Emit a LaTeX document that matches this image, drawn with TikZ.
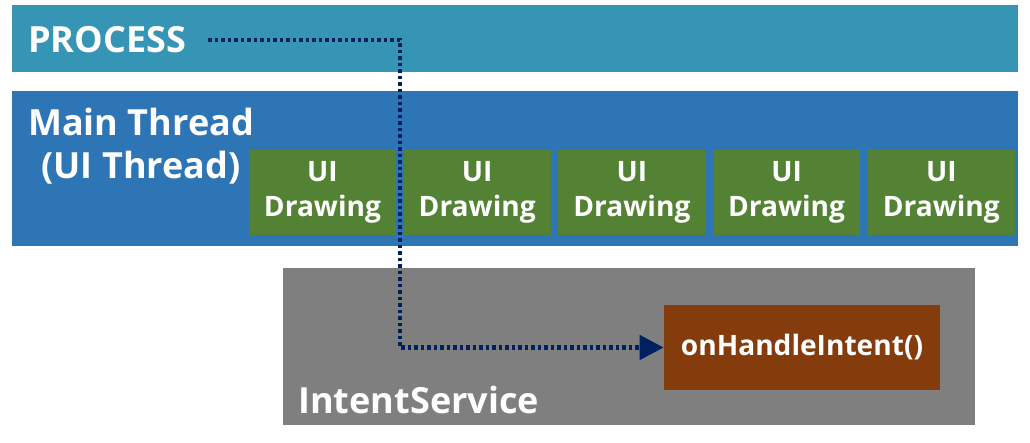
\documentclass[tikz,border=0pt]{standalone}
\usepackage{fontspec}
\setmainfont{Open Sans}
\usetikzlibrary{arrows.meta,positioning}
\definecolor{procblue}{RGB}{54,149,180}
\definecolor{mainblue}{RGB}{46,117,182}
\definecolor{drawgreen}{RGB}{84,130,53}
\definecolor{svcgray}{RGB}{127,127,127}
\definecolor{intentbrown}{RGB}{132,60,12}
\definecolor{linenavy}{RGB}{0,32,96}

\begin{document}
\begin{tikzpicture}[node distance=0.14cm and 0.14cm, every node/.style={font=\bfseries, text=white}]
\tikzset{bar/.style={inner sep=0pt, minimum width=20.12cm}}
\tikzset{uibox/.style={fill=drawgreen, align=center, inner sep=0pt, minimum width=2.94cm, minimum height=1.70cm, font=\bfseries\fontsize{16}{20}\selectfont}}
\tikzset{biglabel/.style={font=\bfseries\fontsize{20.5}{24.5}\selectfont, inner sep=0pt}}
\tikzset{arrow/.style={-{Triangle[length=0.48cm, width=0.48cm]}, line width=0.09cm, color=linenavy, dash pattern=on 0.07cm off 0.06cm}}
\useasboundingbox (0,0) rectangle (20.6,-8.86);
\node[bar, fill=procblue, minimum height=1.34cm] (proc) at (10.3,-0.77) {};
\node[bar, fill=mainblue, minimum height=3.10cm] (main) at (10.3,-3.37) {};
\node[fill=svcgray, inner sep=0pt, minimum width=13.84cm, minimum height=3.14cm] (svc) at (12.58,-6.93) {};
\node[fill=intentbrown, inner sep=0pt, minimum width=5.52cm, minimum height=1.70cm, font=\bfseries\fontsize{16}{20}\selectfont] (intent) at (16.04,-6.95) {onHandleIntent()};
\node[biglabel, anchor=west] (proctxt) at (0.56,-0.80) {PROCESS};
\node[biglabel, align=center] (maintxt) at (2.82,-2.93) {Main Thread\\(UI Thread)};
\node[biglabel, anchor=west] (svctxt) at (5.96,-8.0) {IntentService};
\node[uibox] (ui1) at (6.45,-3.85) {UI\\Drawing};
\node[uibox, right=of ui1] (ui2) {UI\\Drawing};
\node[uibox, right=of ui2] (ui3) {UI\\Drawing};
\node[uibox, right=of ui3] (ui4) {UI\\Drawing};
\node[uibox, right=of ui4] (ui5) {UI\\Drawing};
\coordinate (start) at (4.16,-0.80);
\coordinate (drop) at (8.0,-0.80);
\draw[arrow] (start) -- (drop) |- (intent.west);
\end{tikzpicture}
\end{document}
